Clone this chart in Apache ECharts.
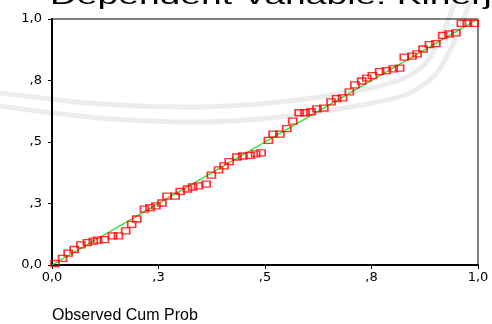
<!DOCTYPE html>
<html>
<head>
<meta charset="utf-8">
<script src="https://cdn.jsdelivr.net/npm/echarts@6/dist/echarts.min.js"></script>
<style>
html,body{margin:0;padding:0;background:#fff;}
#chart{width:492px;height:324px;}
</style>
</head>
<body>
<div id="chart"></div>
<script>
// ---- data ----
const chartTitle = 'Dependent Variable: Kinerja';
const xAxisName = 'Observed Cum Prob';
const tickValues = [0, 0.25, 0.5, 0.75, 1];
const tickLabels = ['0,0', ',3', ',5', ',8', '1,0'];
const observedCumProb = [
  0.007, 0.025, 0.038, 0.052, 0.068, 0.083, 0.097, 0.107, 0.123, 0.142,
  0.156, 0.173, 0.187, 0.199, 0.217, 0.230, 0.244, 0.258, 0.270, 0.289,
  0.301, 0.318, 0.330, 0.344, 0.362, 0.374, 0.391, 0.404, 0.416, 0.434,
  0.448, 0.465, 0.478, 0.491, 0.508, 0.519, 0.535, 0.551, 0.565, 0.580,
  0.594, 0.608, 0.622, 0.638, 0.655, 0.668, 0.682, 0.698, 0.711, 0.727,
  0.739, 0.752, 0.769, 0.785, 0.801, 0.816, 0.827, 0.845, 0.857, 0.871,
  0.886, 0.901, 0.917, 0.932, 0.948, 0.961, 0.975, 0.991
];
const expectedCumProb = [
  0.006, 0.027, 0.048, 0.063, 0.082, 0.091, 0.097, 0.101, 0.103, 0.118,
  0.118, 0.139, 0.165, 0.187, 0.227, 0.233, 0.240, 0.252, 0.280, 0.280,
  0.299, 0.309, 0.317, 0.322, 0.329, 0.365, 0.387, 0.403, 0.420, 0.439,
  0.443, 0.446, 0.452, 0.456, 0.507, 0.532, 0.532, 0.554, 0.585, 0.619,
  0.619, 0.623, 0.635, 0.638, 0.663, 0.676, 0.679, 0.704, 0.732, 0.748,
  0.760, 0.770, 0.786, 0.790, 0.797, 0.800, 0.845, 0.849, 0.858, 0.878,
  0.896, 0.900, 0.933, 0.939, 0.944, 0.982, 0.982, 0.982
];
const diagonal = [[0, 0], [1, 1]];

// background watermark bands (decoration of the scanned page)
const bandA = [[0,93],[100,104],[200,107],[280,102],[350,92],[400,80],[425,64],[440,40],[452,10],[456,0]];
const bandB = [[0,106],[100,118],[200,122],[280,117],[350,107],[405,95],[435,75],[455,40],[467,10],[471,0]];

const points = observedCumProb.map((x, i) => [x, expectedCumProb[i]]);

const chart = echarts.init(document.getElementById('chart'), null, {renderer: 'canvas'});

const labelFmt = v => {
  const idx = tickValues.findIndex(t => Math.abs(t - v) < 1e-6);
  return idx >= 0 ? tickLabels[idx] : '';
};

const axisCommon = {
  type: 'value', min: 0, max: 1, interval: 0.25,
  axisLine: {show: true, onZero: false, lineStyle: {color: '#000', width: 2}},
  axisTick: {show: true, inside: false, length: 4, lineStyle: {color: '#000', width: 1}},
  splitLine: {show: false},
  axisLabel: {
    formatter: labelFmt, color: '#000',
    fontFamily: 'DejaVu Sans', fontSize: 13
  }
};

chart.setOption({
  animation: false,
  backgroundColor: '#fff',
  grid: {left: 52, right: 14, top: 19, bottom: 55, show: true, borderColor: '#000', borderWidth: 1, backgroundColor: 'transparent'},
  graphic: [
    {type: 'polyline', z: -10, silent: true, shape: {points: bandA, smooth: 0.3},
     style: {stroke: '#ececec', lineWidth: 5, fill: null}},
    {type: 'polyline', z: -10, silent: true, shape: {points: bandB, smooth: 0.3},
     style: {stroke: '#ececec', lineWidth: 5, fill: null}},
    {type: 'text', x: 50, y: -3, scaleX: 1.55, scaleY: 1, z: 10,
     style: {text: chartTitle, x: 0, y: 0, fill: '#000',
             font: '24px "Liberation Sans", Arial, sans-serif',
             align: 'left', verticalAlign: 'middle'}}
  ],
  xAxis: Object.assign({}, axisCommon, {
    position: 'bottom',
    axisLabel: Object.assign({}, axisCommon.axisLabel, {margin: 6}),
    name: xAxisName,
    nameLocation: 'start',
    nameGap: 0,
    nameTextStyle: {
      color: '#000', fontFamily: '"Liberation Sans", Arial, sans-serif', fontSize: 16,
      align: 'left', verticalAlign: 'top', padding: [43, 0, 0, 0]
    }
  }),
  yAxis: Object.assign({}, axisCommon, {
    position: 'left',
    axisLabel: Object.assign({}, axisCommon.axisLabel, {margin: 10})
  }),
  series: [
    {
      type: 'line', data: diagonal, symbol: 'none', z: 2,
      lineStyle: {color: '#11e011', width: 1.2}
    },
    {
      type: 'scatter', data: points, symbol: 'rect', symbolSize: [8, 6], z: 3,
      itemStyle: {color: 'rgba(255,255,255,0)', borderColor: '#ff0000', borderWidth: 1.5}
    }
  ]
});
</script>
</body>
</html>
